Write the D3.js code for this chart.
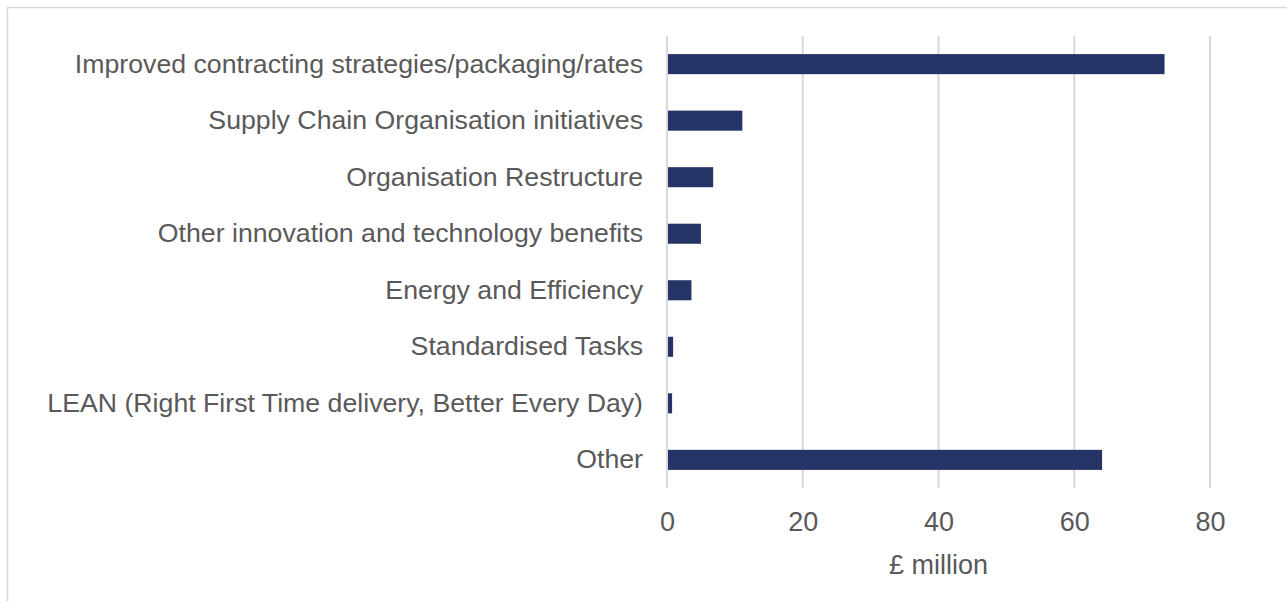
<!DOCTYPE html>
<html>
<head>
<meta charset="utf-8">
<script src="https://cdn.jsdelivr.net/npm/d3@7"></script>
<style>
  html, body { margin: 0; padding: 0; background: #fff; }
  svg { display: block; font-family: "Liberation Sans", Arial, sans-serif; }
</style>
</head>
<body>
<svg id="chart" width="1287" height="601"></svg>
<script>
// Efficiency savings by category, £ million
const categories = [
  "Improved contracting strategies/packaging/rates",
  "Supply Chain Organisation initiatives",
  "Organisation Restructure",
  "Other innovation and technology benefits",
  "Energy and Efficiency",
  "Standardised Tasks",
  "LEAN (Right First Time delivery, Better Every Day)",
  "Other"
];
const values = [73.3, 11.1, 6.8, 5.0, 3.6, 0.9, 0.75, 64.1];
const xTicks = [0, 20, 40, 60, 80];
const xTitle = "£ million";

const svg = d3.select("#chart");
const margin = { left: 667, right: 77, top: 36, bottom: 113 };
const W = 1287, H = 601;

// outer frame
svg.append("rect")
  .attr("x", 7.5).attr("y", 7.5)
  .attr("width", W + 10).attr("height", H + 10)
  .attr("fill", "none").attr("stroke", "#d9d9d9").attr("stroke-width", 1.5);

const x = d3.scaleLinear().domain([0, 80]).range([margin.left, W - margin.right]);
const y = d3.scaleBand().domain(categories)
  .range([margin.top, H - margin.bottom]).paddingInner(0.645).paddingOuter(0.32);

// vertical gridlines
svg.append("g").selectAll("line").data(xTicks).join("line")
  .attr("x1", d => x(d)).attr("x2", d => x(d))
  .attr("y1", margin.top).attr("y2", H - margin.bottom)
  .attr("stroke", "#d9d9d9").attr("stroke-width", 2);

// bars
svg.append("g").selectAll("rect").data(categories).join("rect")
  .attr("x", x(0) + 1)
  .attr("y", d => y(d))
  .attr("width", (d, i) => x(values[i]) - x(0) - 1)
  .attr("height", y.bandwidth())
  .attr("fill", "#263366");

// category labels
const yAxis = svg.append("g")
  .attr("transform", `translate(${x(0) - 24},0)`)
  .call(d3.axisLeft(y).tickSize(0).tickPadding(0));
yAxis.select(".domain").remove();
yAxis.selectAll("text")
  .attr("fill", "#595959").attr("font-size", 26.7)
  .attr("font-family", "Liberation Sans, Arial, sans-serif");

// value axis labels
const xAxis = svg.append("g")
  .attr("transform", `translate(0,${H - margin.bottom + 24})`)
  .call(d3.axisBottom(x).tickValues(xTicks).tickSize(0).tickPadding(0));
xAxis.select(".domain").remove();
xAxis.selectAll("text")
  .attr("fill", "#595959").attr("font-size", 27)
  .attr("font-family", "Liberation Sans, Arial, sans-serif");

// axis title
svg.append("text")
  .attr("x", x(40)).attr("y", 574)
  .attr("text-anchor", "middle")
  .attr("fill", "#595959").attr("font-size", 27)
  .text(xTitle);
</script>
</body>
</html>
